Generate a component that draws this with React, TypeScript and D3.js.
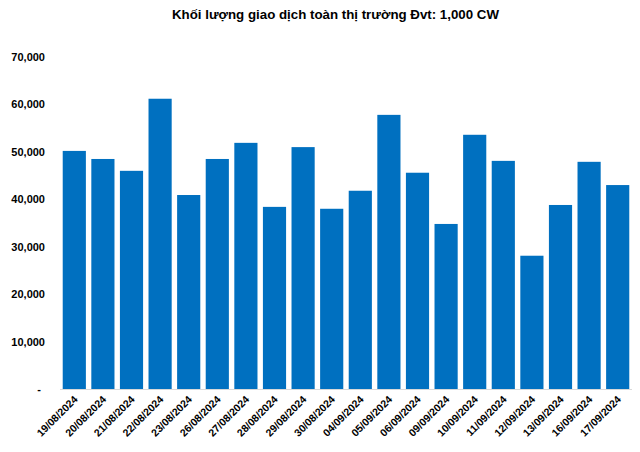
import React from "react";
import * as d3 from "d3";

const dates = [
  "19/08/2024", "20/08/2024", "21/08/2024", "22/08/2024", "23/08/2024",
  "26/08/2024", "27/08/2024", "28/08/2024", "29/08/2024", "30/08/2024",
  "04/09/2024", "05/09/2024", "06/09/2024", "09/09/2024", "10/09/2024",
  "11/09/2024", "12/09/2024", "13/09/2024", "16/09/2024", "17/09/2024",
];
const volumes = [
  50200, 48500, 46000, 61200, 40900,
  48500, 51900, 38400, 51000, 38000,
  41800, 57800, 45600, 34800, 53600,
  48100, 28100, 38800, 47900, 43000,
];
const yTicks = [0, 10000, 20000, 30000, 40000, 50000, 60000, 70000];
const title = "Khối lượng giao dịch toàn thị trường Đvt: 1,000 CW";

const W = 640, H = 452;
const left = 60, right = 632, top = 57, bottom = 389;

export default function App() {
  const x = d3.scaleBand<string>().domain(dates).range([left, right]).paddingInner(0.19).paddingOuter(0.095);
  const y = d3.scaleLinear().domain([0, 70000]).range([bottom, top]);
  const fmt = d3.format(",");
  const font = "'Liberation Sans', Arial, sans-serif";
  return (
    <svg width={W} height={H} style={{ position: "absolute", left: 0, top: 0, background: "#fff" }} fontFamily={font}>
      <text x={335.5} y={18.5} textAnchor="middle" fontSize={13.3} fontWeight="bold" fill="#000">{title}</text>
      {yTicks.map((t) => (
        <text key={t} x={t === 0 ? 41 : 45} y={y(t) + 4} textAnchor="end" fontSize={11} fontWeight="bold" fill="#000">
          {t === 0 ? "-" : fmt(t)}
        </text>
      ))}
      {dates.map((d, i) => (
        <rect key={d} x={x(d)} y={y(volumes[i])} width={x.bandwidth()} height={bottom - y(volumes[i])} fill="#0070C0" />
      ))}
      <line x1={left} x2={right} y1={bottom + 0.5} y2={bottom + 0.5} stroke="#D9D9D9" strokeWidth={1} />
      {dates.map((d) => {
        const cx = (x(d) as number) + x.bandwidth() / 2 + 4;
        const cy = 400;
        return (
          <text key={d} transform={`translate(${cx},${cy}) rotate(-45)`} textAnchor="end" fontSize={10.5} fontWeight="bold" fill="#000">
            {d}
          </text>
        );
      })}
    </svg>
  );
}
